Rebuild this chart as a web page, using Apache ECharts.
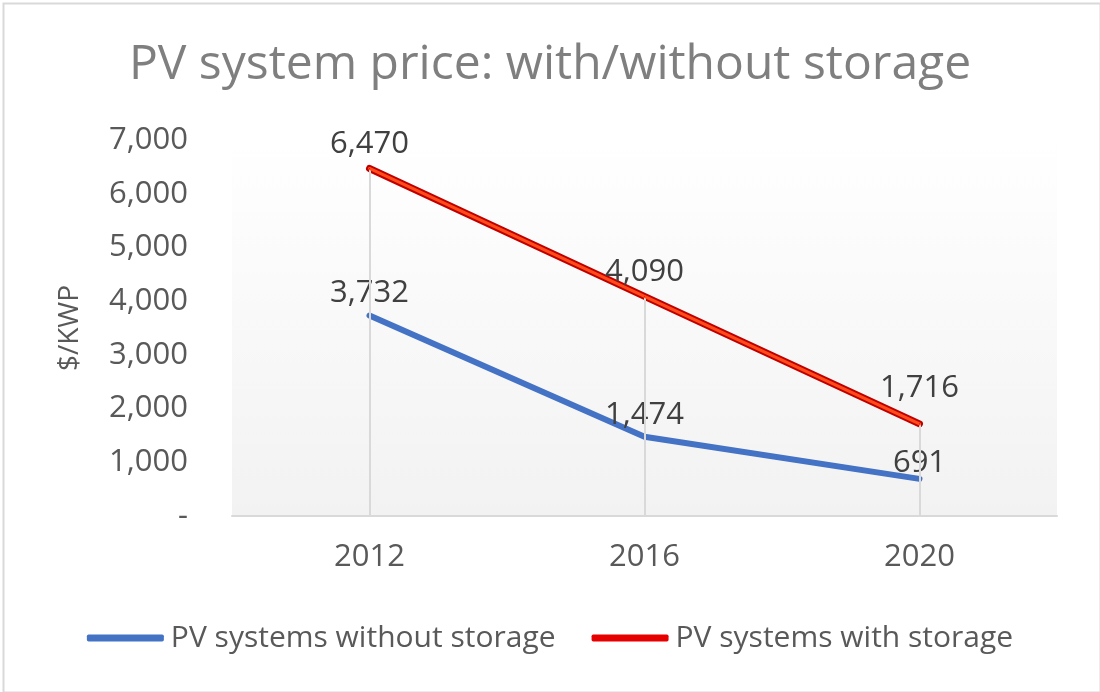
<!DOCTYPE html>
<html>
<head>
<meta charset="utf-8">
<script src="https://cdn.jsdelivr.net/npm/echarts@6/dist/echarts.min.js"></script>
<style>
html,body{margin:0;padding:0;background:#fff;}
#chart{width:1100px;height:692px;}
</style>
</head>
<body>
<div id="chart"></div>
<script>
const categories = ['2012', '2016', '2020'];
const withoutStorage = [3732, 1474, 691];
const withStorage = [6470, 4090, 1716];
const seriesNames = ['PV systems without storage', 'PV systems with storage'];
const titleText = 'PV system price: with/without storage';
const yAxisName = '$/KWP';

const FONT = 'Open Sans';
const chart = echarts.init(document.getElementById('chart'), null, {renderer: 'canvas'});

const fmt = v => v === 0 ? '-' : v.toLocaleString('en-US');
const dropLines = categories.map((c, i) => {
  const top = Math.max(withoutStorage[i], withStorage[i]);
  return [{coord: [c, top]}, {coord: [c, 0]}];
});

const labelStyle = {
  show: true, position: 'top', distance: 8,
  fontFamily: FONT, fontSize: 31, color: '#404040',
  formatter: p => fmt(p.value)
};
// per-point label gaps (Excel places labels slightly differently)
const blueGaps = [6, 6, 0];
const redGaps = [8, 8, 20];
const withGaps = (vals, gaps) => vals.map((v, i) => ({value: v, label: {distance: gaps[i]}}));

chart.setOption({
  animation: false,
  backgroundColor: '#ffffff',
  graphic: [{
    type: 'rect', left: 1, top: 1, silent: true,
    shape: {width: 1097, height: 689},
    style: {fill: 'none', stroke: '#d9d9d9', lineWidth: 2},
    z: -1
  }],
  title: {
    text: titleText, left: 'center', top: 36,
    textStyle: {fontFamily: FONT, fontSize: 48, fontWeight: 'normal', color: '#7f7f7f'}
  },
  legend: {
    data: seriesNames, bottom: 34, left: 'center', itemGap: 36,
    icon: 'roundRect', itemWidth: 77, itemHeight: 7,
    textStyle: {fontFamily: FONT, fontSize: 30, color: '#595959', padding: [0, 0, 0, 2]}
  },
  grid: {
    left: 232, right: 43, top: 140, bottom: 176,
    show: true, borderWidth: 0,
    backgroundColor: new echarts.graphic.LinearGradient(0, 0, 0, 1, [
      {offset: 0, color: '#ffffff'}, {offset: 1, color: '#f2f2f2'}
    ])
  },
  xAxis: {
    type: 'category', data: categories, boundaryGap: true,
    axisLine: {show: true, lineStyle: {color: '#d9d9d9', width: 2}},
    axisTick: {show: false},
    axisLabel: {fontFamily: FONT, fontSize: 31, color: '#595959', margin: 26},
    splitLine: {show: false}
  },
  yAxis: {
    type: 'value', min: 0, max: 7000, interval: 1000,
    name: yAxisName, nameLocation: 'middle', nameGap: 148, nameRotate: 90,
    nameTextStyle: {fontFamily: FONT, fontSize: 28, color: '#595959'},
    axisLine: {show: false}, axisTick: {show: false},
    splitLine: {show: false},
    axisLabel: {fontFamily: FONT, fontSize: 31, color: '#595959', margin: 44, formatter: fmt}
  },
  series: [
    {
      name: 'drop', type: 'line', data: [], silent: true,
      markLine: {
        silent: true, symbol: 'none', label: {show: false},
        lineStyle: {color: '#d9d9d9', width: 2, type: 'solid'},
        data: dropLines
      }
    },
    {
      name: seriesNames[0], type: 'line', data: withGaps(withoutStorage, blueGaps),
      symbol: 'circle', symbolSize: 1, showSymbol: true,
      itemStyle: {color: '#4472c4'},
      lineStyle: {width: 6, color: '#4472c4', cap: 'round'},
      label: labelStyle, z: 3
    },
    {
      name: 'with_outline', type: 'line', data: withStorage,
      symbol: 'none',
      itemStyle: {color: '#c00000'},
      lineStyle: {width: 7, color: '#c00000', cap: 'round'}, z: 4
    },
    {
      name: seriesNames[1], type: 'line', data: withGaps(withStorage, redGaps),
      symbol: 'circle', symbolSize: 1, showSymbol: true,
      itemStyle: {color: '#e60000'},
      lineStyle: {width: 3, color: '#ff4a1a', cap: 'round'},
      label: labelStyle, z: 5
    }
  ]
});
</script>
</body>
</html>
